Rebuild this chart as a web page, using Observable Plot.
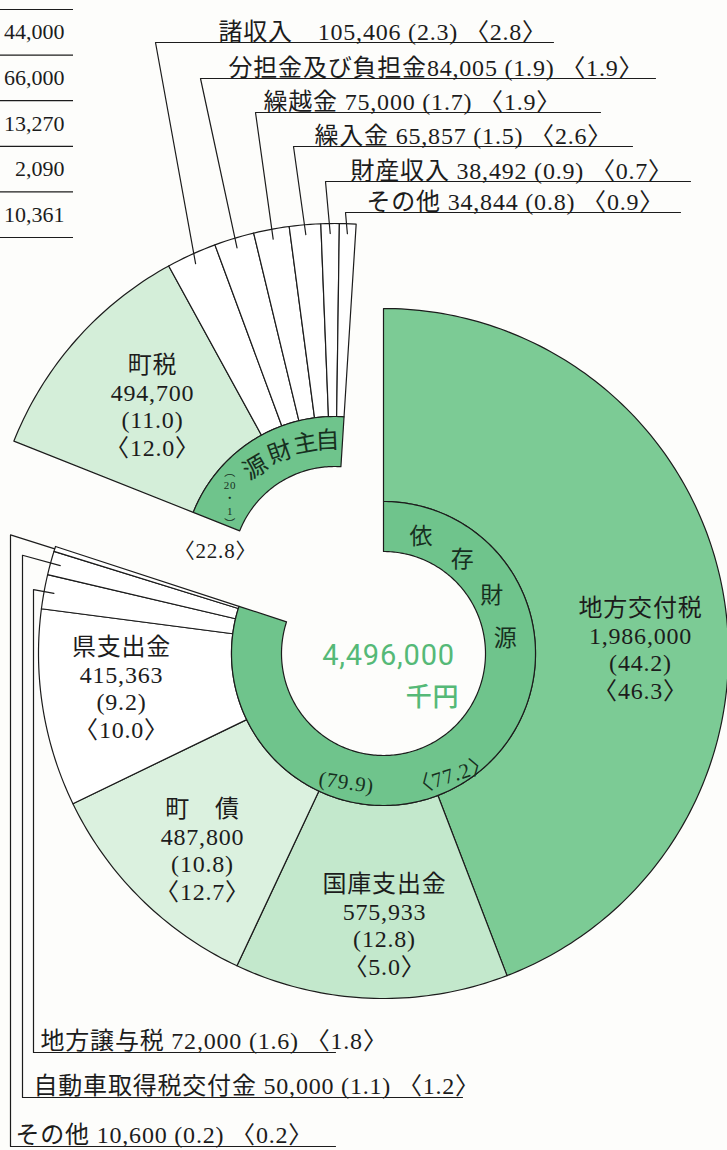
<!DOCTYPE html>
<html><head><meta charset="utf-8">
<script src="https://cdn.jsdelivr.net/npm/d3@7"></script>
<script src="https://cdn.jsdelivr.net/npm/@observablehq/plot@0.6"></script>
<style>html,body{margin:0;padding:0;background:#fdfdfb}svg{display:block}</style>
</head><body><div id="chart"></div>
<script>
// ---------------- DATA ----------------
const total = 4496000; // 千円
const groupNames = ["依存財源", "自主財源"];
const groupPct = [79.9, 20.1];
const groupPrev = [77.2, 22.8];

const depCategories = ["地方交付税", "国庫支出金", "町債", "県支出金", "地方譲与税", "自動車取得税交付金", "その他"];
const depValues = [1986000, 575933, 487800, 415363, 72000, 50000, 10600];
const depPct = [44.2, 12.8, 10.8, 9.2, 1.6, 1.1, 0.2];
const depPrev = [46.3, 5.0, 12.7, 10.0, 1.8, 1.2, 0.2];

const ownCategories = ["町税", "諸収入", "分担金及び負担金", "繰越金", "繰入金", "財産収入", "その他"];
const ownValues = [494700, 105406, 84005, 75000, 65857, 38492, 34844];
const ownPct = [11.0, 2.3, 1.9, 1.7, 1.5, 0.9, 0.8];
const ownPrev = [12.0, 2.8, 1.9, 1.9, 2.6, 0.7, 0.9];

// partial table visible at the top-left edge (cut off in the picture)
const tableLabels = ["44,000", "66,000", "13,270", "2,090", "10,361"];

// ---------------- LAYOUT ----------------
const W = 727, H = 1150;
const C1 = {x: 383, y: 653};   // dependent sources centre
const C2 = {x: 334, y: 568};   // exploded own sources centre
const R_IN = 102, R_MID = 152, R_OUT = 345;
const OWN_ROT = 3.6;
const INK = "#1c1c1c";
const SERIF = "'Liberation Serif','Noto Sans CJK JP',serif";
const CJK = "'Noto Sans CJK JP',sans-serif";
const GREEN_TXT = "#55b977";
const BAND = "#6fc48c";
const BAND_TXT = "#17301f";
const FS = 24;
const depFill = ["#7ccb95", "#c3e8cc", "#dbf1df", "#ffffff", "#ffffff", "#ffffff", "#ffffff"];
const ownFill = ["#d4eed9", "#ffffff", "#ffffff", "#ffffff", "#ffffff", "#ffffff", "#ffffff"];

const fmt = d3.format(",");
const rad = a => a * Math.PI / 180;
const toXY = (c, r, a) => ({x: c.x + r * Math.sin(rad(a)), y: c.y - r * Math.cos(rad(a))});
function wedge(c, r0, r1, a0, a1) {
  const n = Math.max(2, Math.ceil(Math.abs(a1 - a0)));
  const pts = [];
  for (let i = 0; i <= n; i++) pts.push(toXY(c, r1, a0 + (a1 - a0) * i / n));
  for (let i = n; i >= 0; i--) pts.push(toXY(c, r0, a0 + (a1 - a0) * i / n));
  return pts;
}
const deg = v => v / total * 360;
function cumAngles(values, start) {
  let a = start; return values.map(v => { const a0 = a; a += deg(v); return [a0, a]; });
}
const depAngles = cumAngles(depValues, 0);
const depEnd = depAngles[depAngles.length - 1][1];
const ownAngles = cumAngles(ownValues, depEnd + OWN_ROT);
const ownEnd = ownAngles[ownAngles.length - 1][1];
const mid = ([a0, a1]) => (a0 + a1) / 2;

const marks = [];
const poly = (pts, fill, sw = 1.2) => Plot.line(pts, {x: "x", y: "y", curve: "linear-closed", fill, stroke: INK, strokeWidth: sw, strokeLinejoin: "round"});
const path = (pts, sw = 1.2) => Plot.line(pts, {x: "x", y: "y", stroke: INK, strokeWidth: sw, strokeLinejoin: "round"});
const txt = (x, y, text, o = {}) => Plot.text([0], {x: () => x, y: () => y, text: () => text, fill: INK, fontFamily: SERIF, fontSize: FS, ...o});

// outer segments
depAngles.forEach((a, i) => marks.push(poly(wedge(C1, R_MID, R_OUT, a[0], a[1]), depFill[i])));
ownAngles.forEach((a, i) => marks.push(poly(wedge(C2, R_MID, R_OUT, a[0], a[1]), ownFill[i])));
// group bands
marks.push(poly(wedge(C1, R_IN, R_MID, 0, depEnd), BAND));
marks.push(poly(wedge(C2, R_IN, R_MID, depEnd + OWN_ROT, ownEnd), BAND));

// own-source small segments: leaders up to labels
const ownLead = [null,
  {y: 42, x0: 155, x1: 553, tx: 218, sep: "\u3000"},
  {y: 78, x0: 200, x1: 655, tx: 228, sep: ""},
  {y: 112, x0: 255, x1: 600, tx: 263, sep: " "},
  {y: 146, x0: 293, x1: 632, tx: 314, sep: " "},
  {y: 181, x0: 325, x1: 690, tx: 350, sep: " "},
  {y: 212, x0: 345, x1: 680, tx: 366, sep: " "}];
ownCategories.forEach((name, i) => {
  const L = ownLead[i]; if (!L) return;
  const p = toXY(C2, R_OUT - 10, mid(ownAngles[i]));
  marks.push(path([p, {x: L.x0, y: L.y}, {x: L.x1, y: L.y}]));
  marks.push(txt(L.tx, L.y - 3, `${name}${L.sep}${fmt(ownValues[i])} (${ownPct[i].toFixed(1)}) 〈${ownPrev[i].toFixed(1)}〉`, {textAnchor: "start", lineAnchor: "bottom"}));
});

// dependent small segments: leaders down to labels
const depLead = [null, null, null, null,
  {xv: 33, r0: R_OUT - 10, y: 1052, x1: 335, tx: 40},
  {xv: 22, r0: R_OUT - 10, y: 1097, x1: 462, tx: 33},
  {xv: 10, r0: R_OUT, y: 1146, x1: 335, tx: 15}];
depCategories.forEach((name, i) => {
  const L = depLead[i]; if (!L) return;
  const a = mid(depAngles[i]);
  const p0 = toXY(C1, L.r0, a);
  const rv = (L.xv - C1.x) / Math.sin(rad(a));
  const p1 = toXY(C1, rv, a);
  marks.push(path([p0, p1, {x: L.xv, y: L.y}, {x: L.x1, y: L.y}]));
  marks.push(txt(L.tx, L.y - 4, `${name} ${fmt(depValues[i])} (${depPct[i].toFixed(1)}) 〈${depPrev[i].toFixed(1)}〉`, {textAnchor: "start", lineAnchor: "bottom"}));
});

// labels inside the large segments
const inner = [
  {cat: "dep", i: 0, x: 640, y: 648, name: "地方交付税"},
  {cat: "dep", i: 1, x: 384, y: 924, name: "国庫支出金"},
  {cat: "dep", i: 2, x: 202, y: 849, name: "町　債"},
  {cat: "dep", i: 3, x: 121, y: 687, name: "県支出金"},
  {cat: "own", i: 0, x: 152, y: 405, name: "町税"}];
inner.forEach(L => {
  const v = L.cat === "dep" ? depValues[L.i] : ownValues[L.i];
  const p = L.cat === "dep" ? depPct[L.i] : ownPct[L.i];
  const q = L.cat === "dep" ? depPrev[L.i] : ownPrev[L.i];
  marks.push(txt(L.x, L.y, `${L.name}\n${fmt(v)}\n(${p.toFixed(1)})\n〈${q.toFixed(1)}〉`, {lineHeight: 1.15}));
});

// band captions
const depChars = [...groupNames[0]];
[18, 40, 62, 83].forEach((a, k) => { const p = toXY(C1, 123, a); marks.push(txt(p.x, p.y, depChars[k], {fontFamily: CJK, fontSize: 23, fill: BAND_TXT})); });
const ownChars = [...groupNames[1]];
[-3, -13, -25, -38].forEach((a, k) => { const p = toXY(C2, 128, a); marks.push(txt(p.x, p.y, ownChars[k], {fontFamily: CJK, fontSize: 24, fill: BAND_TXT, rotate: a * 0.8})); });
{
  const [ip, fp] = groupPct[1].toFixed(1).split(".");
  const p = toXY(C2, 126, -56);
  ["︵", ip, "・", fp, "︶"].forEach((s, k) =>
    marks.push(txt(p.x, p.y - 26 + k * 13, s, {fontSize: 11, fill: BAND_TXT, fontFamily: k % 2 === 0 ? CJK : SERIF})));
}
marks.push(txt(215, 551, `〈${groupPrev[1].toFixed(1)}〉`, {fontSize: 21}));
marks.push(txt(346, 782, `(${groupPct[0].toFixed(1)})`, {fontSize: 21, rotate: 8, fill: BAND_TXT}));
marks.push(txt(451, 775, `〈${groupPrev[0].toFixed(1)}〉`, {fontSize: 21, rotate: -18, fill: BAND_TXT}));

// centre total
marks.push(txt(388, 655, fmt(total), {fontFamily: "Roboto", fontWeight: 400, fontSize: 29, fill: GREEN_TXT}));
marks.push(txt(432, 697, "千円", {fontFamily: CJK, fontWeight: 500, fontSize: 26, fill: GREEN_TXT}));

// partial table at left edge
const rowTop = 9, rowH = 45.6;
marks.push(Plot.ruleY(d3.range(tableLabels.length + 1), {y: i => rowTop + i * rowH, x1: 0, x2: 73, stroke: INK, strokeWidth: 1.2}));
marks.push(Plot.text(tableLabels, {x: 64, y: (d, i) => rowTop + (i + 0.5) * rowH, text: d => d, textAnchor: "end", fontFamily: SERIF, fontSize: 22, fill: INK}));

const chart = Plot.plot({
  width: W, height: H, margin: 0,
  x: {domain: [0, W], range: [0, W], axis: null},
  y: {domain: [0, H], range: [0, H], axis: null},
  style: {background: "transparent", overflow: "visible", letterSpacing: "0.8px"},
  marks
});
// table numbers sit at the page edge: no extra letter spacing there
chart.querySelectorAll("g[aria-label='text']").forEach(g => {
  const t = g.querySelector("text");
  if (t && tableLabels.includes(t.textContent)) g.setAttribute("letter-spacing", "0");
});
document.getElementById("chart").appendChild(chart);
</script></body></html>
